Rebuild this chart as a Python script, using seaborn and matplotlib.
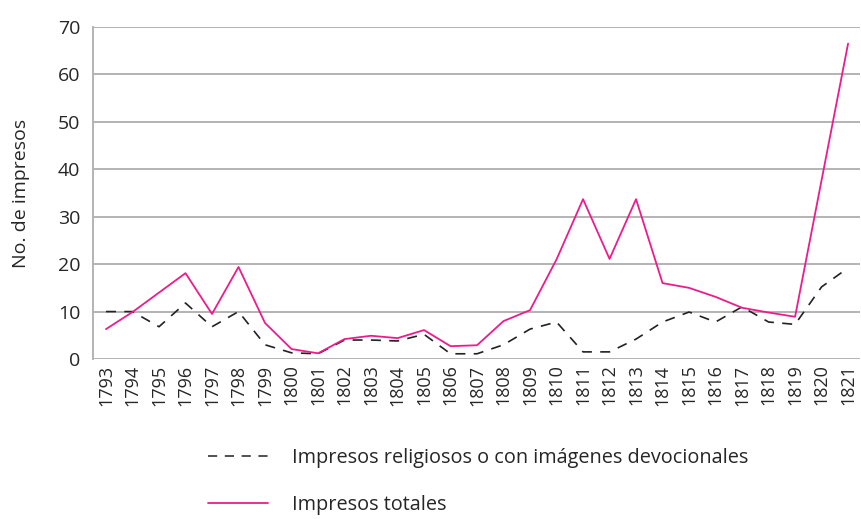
import matplotlib
matplotlib.use("Agg")
import matplotlib.pyplot as plt
import seaborn as sns
import pandas as pd
from matplotlib.lines import Line2D

years = [str(y) for y in range(1793, 1822)]
religiosos = [10, 10, 6.8, 11.8, 6.8, 10, 3, 1.3, 1.1, 4, 4, 3.8, 5.2, 1.1, 1.1,
              3, 6.3, 7.8, 1.5, 1.5, 4.2, 7.8, 9.9, 7.8, 11, 7.8, 7.3, 15.2, 19.2]
totales = [6.3, 9.9, 14, 18.1, 9.5, 19.4, 7.6, 2.1, 1.2, 4.2, 4.9, 4.4, 6.1, 2.7, 2.9,
           8, 10.3, 21, 33.7, 21.1, 33.7, 16, 15, 13.1, 10.8, 9.8, 8.9, 37.7, 66.5]
label_rel = "Impresos religiosos o con imágenes devocionales"
label_tot = "Impresos totales"
ylabel = "No. de impresos"

sns.set_style("white")
plt.rcParams['font.family'] = ['Open Sans', 'DejaVu Sans']

df = pd.DataFrame({"pos": range(len(years)), "year": years,
                   "rel": religiosos, "tot": totales})

fig = plt.figure(figsize=(8.62, 5.19), dpi=100)
ax = fig.add_axes([93/862, 1-359/519, (860-93)/862, (359-27)/519])

pink = "#EC1C8C"
sns.lineplot(data=df, x="pos", y="rel", ax=ax, color="#222222", lw=1.2,
             linestyle=(0, (6, 5)), legend=False)
sns.lineplot(data=df, x="pos", y="tot", ax=ax, color=pink, lw=1.3, legend=False)

ax.set_ylim(0, 70)
ax.set_yticks(range(0, 71, 10))
ax.set_xlim(-0.49, len(years) - 1 + 0.45)
ax.set_xticks(range(len(years)))
ax.set_xticklabels(years, rotation=90, fontsize=13)
ax.tick_params(axis='y', labelsize=14, length=0, pad=9)
ax.tick_params(axis='x', length=0, pad=4)
ax.grid(axis='y', color="#b3b3b3", lw=1.4)
ax.set_axisbelow(True)
for s in ["top", "right", "bottom"]:
    ax.spines[s].set_visible(False)
ax.spines["left"].set_color("#b3b3b3")
ax.spines["left"].set_linewidth(1.4)
ax.set_xlabel("")
ax.set_ylabel(ylabel, fontsize=14, labelpad=20)

handles = [Line2D([], [], color="#222222", lw=1.1, linestyle=(0, (6, 5))),
           Line2D([], [], color=pink, lw=1.3)]
fig.legend(handles, [label_rel, label_tot], loc="upper left",
           bbox_to_anchor=(198/862, 1-438/519), frameon=False, fontsize=14.3,
           handlelength=3.0, handletextpad=1.25, labelspacing=1.38, borderpad=0)

fig.savefig("out.png", dpi=100)
